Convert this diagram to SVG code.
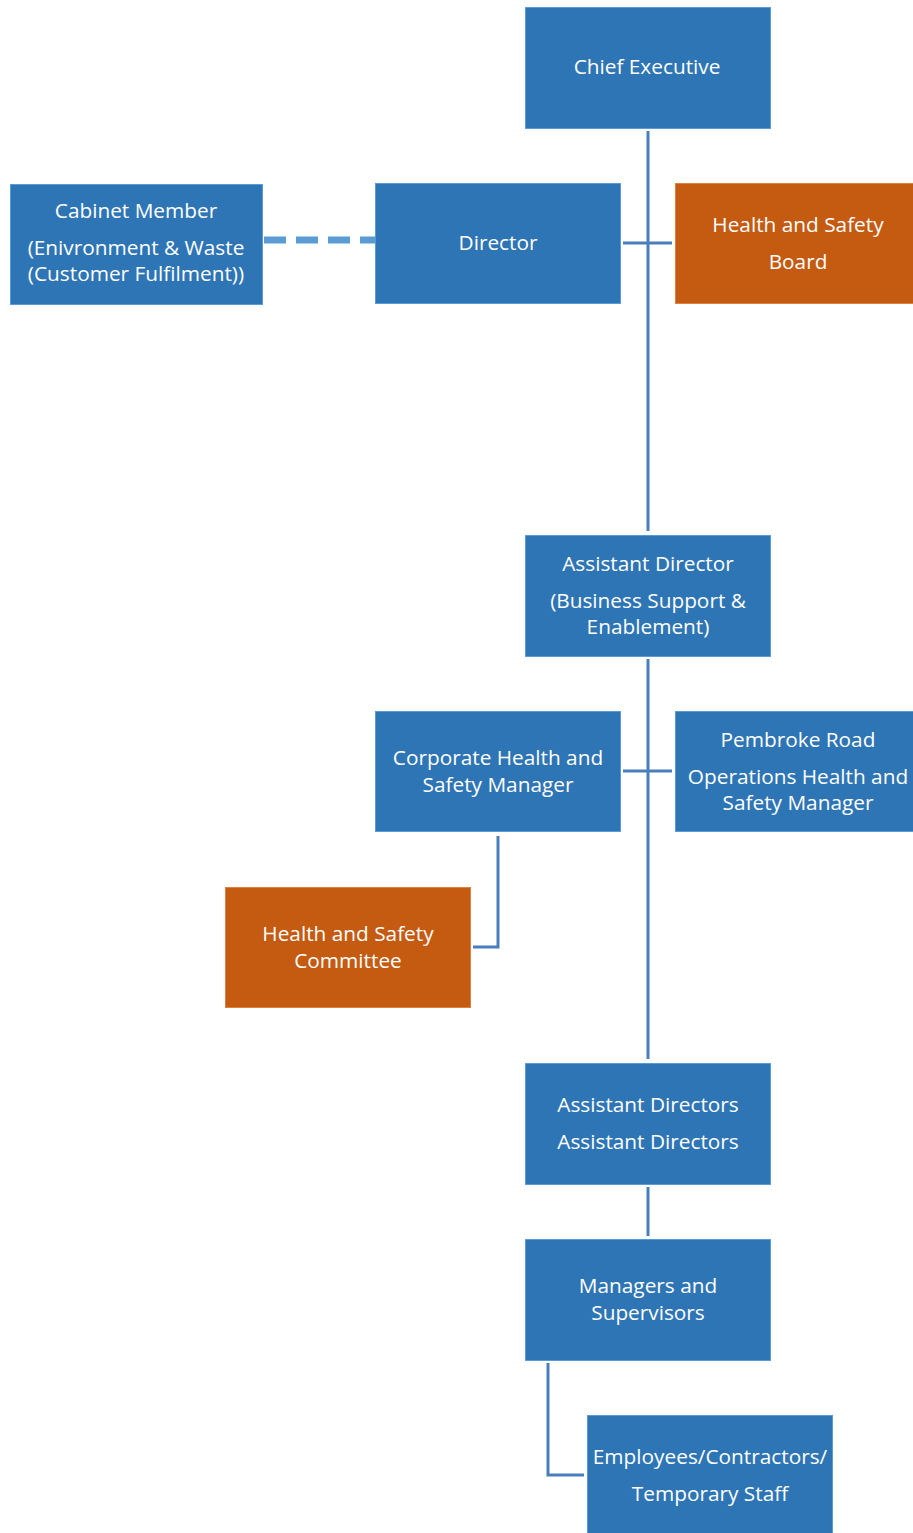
<svg xmlns="http://www.w3.org/2000/svg" width="913" height="1533" viewBox="0 0 913 1533">
<style>
.b{fill:#2E75B6;stroke:#5B9BD5;stroke-width:1}
.o{fill:#C55A11;stroke:#E08040;stroke-width:1}
text{font-family:"Open Sans","Noto Sans","DejaVu Sans",sans-serif;font-size:20.8px;fill:#FFFFFF;text-anchor:middle}
.c{fill:none;stroke:#4A7EBB;stroke-width:3}
.d{fill:none;stroke:#5B9BD5;stroke-width:7;stroke-dasharray:22 10}
</style>
<rect width="913" height="1533" fill="#FFFFFF"/>
<g id="connectors">
<path class="c" d="M648 131V531"/>
<path class="c" d="M623 243H672"/>
<path class="d" d="M264 240H375"/>
<path class="c" d="M648 659V1059"/>
<path class="c" d="M623 771H672"/>
<path class="c" d="M498 836V947H473"/>
<path class="c" d="M648 1187V1236"/>
<path class="c" d="M548 1363V1475H584"/>
</g>
<g id="chief-executive"><rect class="b" x="525.5" y="7.5" width="245" height="121"/><text x="647" y="74">Chief Executive</text></g>
<g id="cabinet-member"><rect class="b" x="10.5" y="184.5" width="252" height="120"/><text x="136" y="218">Cabinet Member</text><text x="136" y="255">(Enivronment &amp; Waste</text><text x="136" y="281">(Customer Fulfilment))</text></g>
<g id="director"><rect class="b" x="375.5" y="183.5" width="245" height="120"/><text x="498" y="250">Director</text></g>
<g id="hs-board"><rect class="o" x="675.5" y="183.5" width="238" height="120"/><text x="798" y="232">Health and Safety</text><text x="798" y="269">Board</text></g>
<g id="assistant-director"><rect class="b" x="525.5" y="535.5" width="245" height="121"/><text x="648" y="571">Assistant Director</text><text x="648" y="608">(Business Support &amp;</text><text x="648" y="634">Enablement)</text></g>
<g id="corporate-hs-manager"><rect class="b" x="375.5" y="711.5" width="245" height="120"/><text x="498" y="765">Corporate Health and</text><text x="498" y="792">Safety Manager</text></g>
<g id="pembroke-road"><rect class="b" x="675.5" y="711.5" width="238" height="120"/><text x="798" y="747">Pembroke Road</text><text x="798" y="784">Operations Health and</text><text x="798" y="810">Safety Manager</text></g>
<g id="hs-committee"><rect class="o" x="225.5" y="887.5" width="245" height="120"/><text x="348" y="941">Health and Safety</text><text x="348" y="968">Committee</text></g>
<g id="assistant-directors"><rect class="b" x="525.5" y="1063.5" width="245" height="121"/><text x="648" y="1112">Assistant Directors</text><text x="648" y="1149">Assistant Directors</text></g>
<g id="managers-supervisors"><rect class="b" x="525.5" y="1239.5" width="245" height="121"/><text x="648" y="1293">Managers and</text><text x="648" y="1320">Supervisors</text></g>
<g id="employees"><rect class="b" x="587.5" y="1415.5" width="245" height="120"/><text x="710" y="1464">Employees/Contractors/</text><text x="710" y="1501">Temporary Staff</text></g>
</svg>
